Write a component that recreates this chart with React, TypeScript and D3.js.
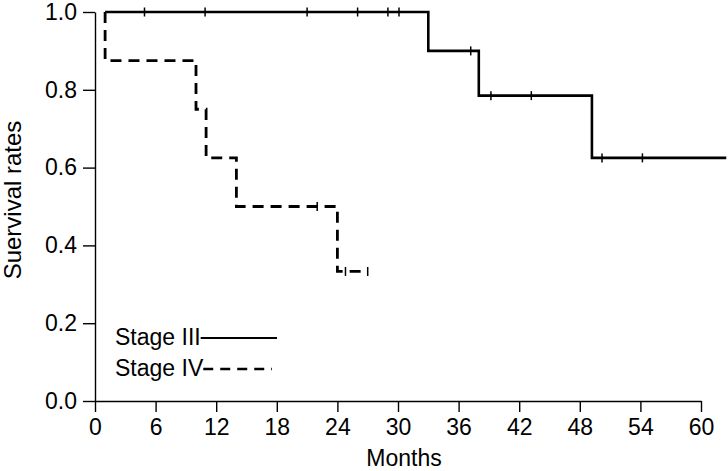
import * as d3 from "d3";
import { useEffect, useRef } from "react";

// Kaplan-Meier steps: month where the curve starts / drops, and survival after it
const stage3Times = [1, 33, 38, 49.2, 62.5];
const stage3Surv = [1.0, 0.9, 0.785, 0.625, 0.625];
const stage3CensorTimes = [4.9, 10.9, 21, 26, 29, 30.1, 37.2, 39.2, 43.2, 50.2, 54.2];

const stage4Times = [1, 1, 10, 11, 14, 24, 27];
const stage4Surv = [1.0, 0.875, 0.75, 0.625, 0.5, 0.333, 0.333];
const stage4CensorTimes = [22, 24.8, 27];

const xTicks = [0, 6, 12, 18, 24, 30, 36, 42, 48, 54, 60];
const yTicks = [0, 0.2, 0.4, 0.6, 0.8, 1.0];

const legendLabels = ["Stage III", "Stage IV"];

function survAt(times: number[], surv: number[], t: number) {
  let s = surv[0];
  for (let i = 0; i < times.length; i++) {
    if (times[i] <= t) s = surv[i];
  }
  return s;
}

function App() {
  const ref = useRef<SVGSVGElement>(null);

  useEffect(() => {
    const font = "'Liberation Sans', Arial, Helvetica, sans-serif";

    const svg = d3.select(ref.current);
    svg.selectAll("*").remove();

    const x = d3.scaleLinear().domain([0, 60]).range([95, 701]);
    const y = d3.scaleLinear().domain([0, 1]).range([401, 12]);

    // axes
    const yAxis = svg
      .append("g")
      .attr("transform", "translate(" + x(0) + ",0)")
      .call(
        d3
          .axisLeft(y)
          .tickValues(yTicks)
          .tickFormat(d3.format(".1f"))
          .tickSize(12)
          .tickSizeOuter(0)
          .tickPadding(6)
      );

    const xAxis = svg
      .append("g")
      .attr("transform", "translate(0," + y(0) + ")")
      .call(
        d3
          .axisBottom(x)
          .tickValues(xTicks)
          .tickFormat(d3.format("d"))
          .tickSize(11)
          .tickSizeOuter(0)
          .tickPadding(7)
      );

    [xAxis, yAxis].forEach((g) => {
      g.selectAll("path, line").attr("stroke", "#000").attr("stroke-width", 1.4);
      g.selectAll("text")
        .attr("fill", "#000")
        .style("font-family", font)
        .style("font-size", "23px");
    });

    svg
      .append("text")
      .attr("x", 404)
      .attr("y", 466)
      .attr("text-anchor", "middle")
      .style("font-family", font)
      .style("font-size", "23px")
      .text("Months");

    svg
      .append("text")
      .attr("transform", "translate(21,200) rotate(-90)")
      .attr("text-anchor", "middle")
      .style("font-family", font)
      .style("font-size", "24px")
      .text("Suervival rates");

    const line = d3
      .line<[number, number]>()
      .x((d) => x(d[0]))
      .y((d) => y(d[1]))
      .curve(d3.curveStepAfter);

    const series = [
      { times: stage3Times, surv: stage3Surv, censor: stage3CensorTimes, dash: null, w: 2.6 },
      { times: stage4Times, surv: stage4Surv, censor: stage4CensorTimes, dash: "11,7", w: 2.8 },
    ];

    series.forEach((s) => {
      const pts = s.times.map((t, i) => [t, s.surv[i]] as [number, number]);
      svg
        .append("path")
        .attr("d", line(pts))
        .attr("fill", "none")
        .attr("stroke", "#000")
        .attr("stroke-width", s.w)
        .attr("stroke-dasharray", s.dash);

      svg
        .append("g")
        .selectAll("line")
        .data(s.censor)
        .enter()
        .append("line")
        .attr("x1", (d) => x(d))
        .attr("x2", (d) => x(d))
        .attr("y1", (d) => y(survAt(s.times, s.surv, d)) - 4.5)
        .attr("y2", (d) => y(survAt(s.times, s.surv, d)) + 4.5)
        .attr("stroke", "#000")
        .attr("stroke-width", 1.5);
    });

    // legend
    const legend = svg.append("g");
    legendLabels.forEach((label, i) => {
      const base = 345 + i * 31;
      const txt = legend
        .append("text")
        .attr("x", 115)
        .attr("y", base)
        .style("font-family", font)
        .style("font-size", "23px")
        .text(label);
      const tw = (txt.node() as SVGTextElement).getComputedTextLength();
      legend
        .append("line")
        .attr("x1", 115 + tw)
        .attr("x2", i === 0 ? 277 : 272)
        .attr("y1", base - 7)
        .attr("y2", base - 7)
        .attr("stroke", "#000")
        .attr("stroke-width", i === 0 ? 2 : 2.6)
        .attr("stroke-dasharray", i === 0 ? null : "10,7");
    });

    return () => {
      svg.selectAll("*").remove();
    };
  }, []);

  return (
    <svg
      ref={ref}
      width={728}
      height={471}
      style={{ position: "absolute", left: 0, top: 0, background: "#fff" }}
    ></svg>
  );
}

export default App;
